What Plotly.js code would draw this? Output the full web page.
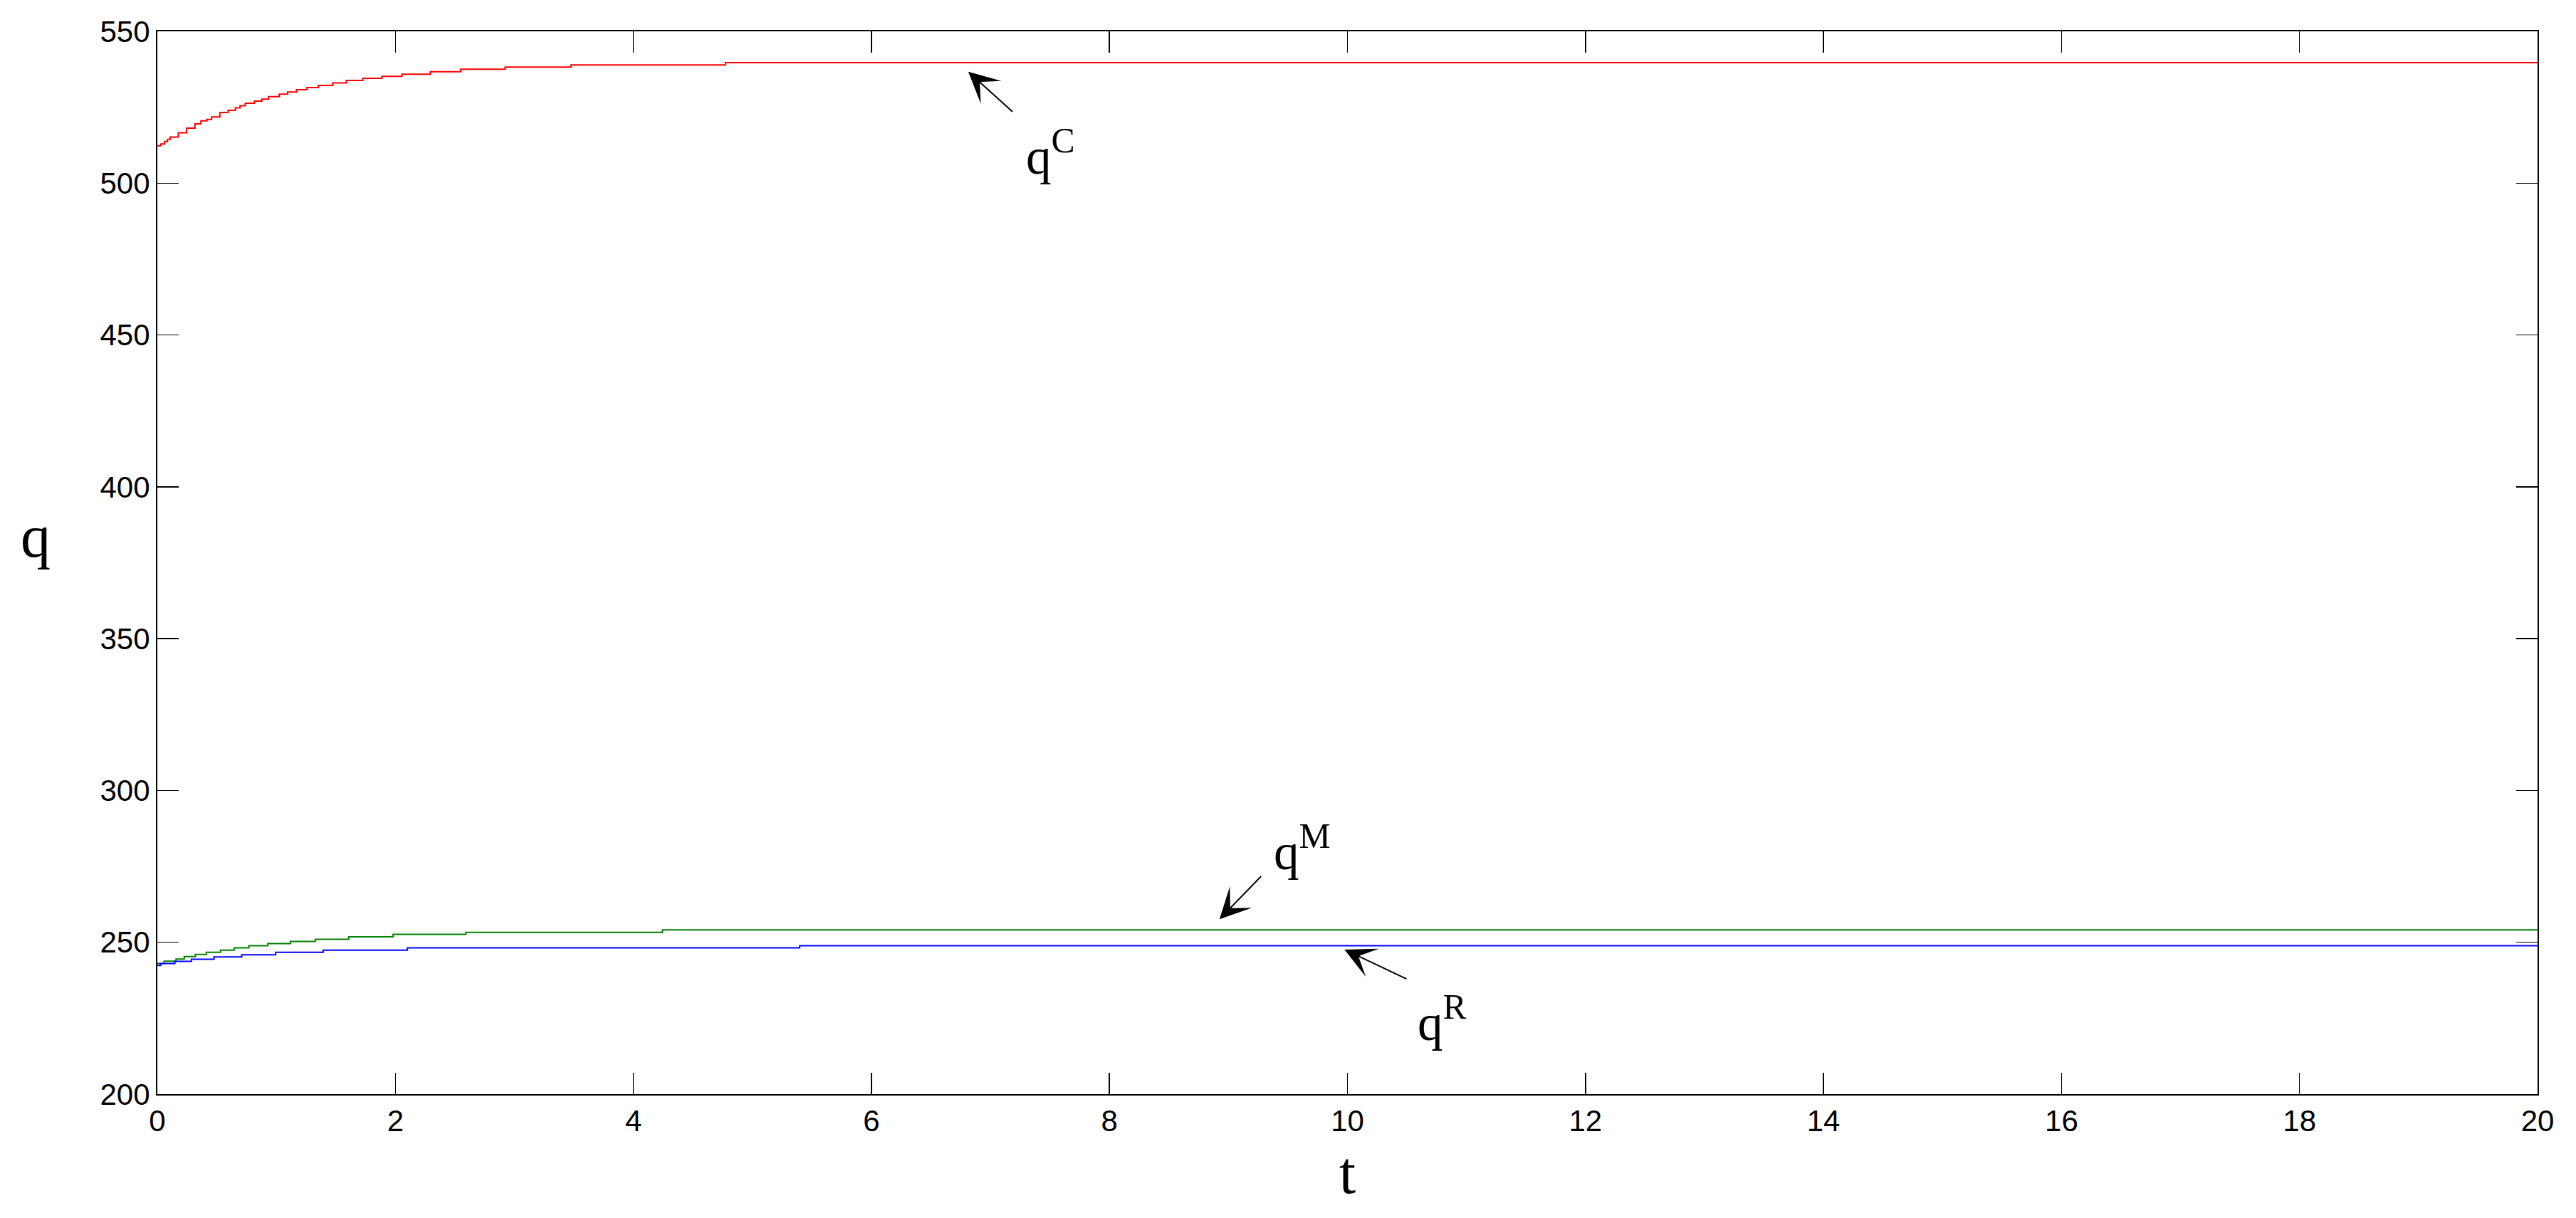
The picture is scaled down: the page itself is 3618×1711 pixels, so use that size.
<!DOCTYPE html>
<html>
<head>
<meta charset="utf-8">
<script src="https://cdn.plot.ly/plotly-3.0.1.min.js"></script>
<style>html,body{margin:0;padding:0;background:#fff;}#chart{width:3618px;height:1711px;}</style>
</head>
<body>
<div id="chart"></div>
<script>
// q^C (red)
const tC = [0, 0.03, 0.06, 0.085, 0.107, 0.176, 0.246, 0.316, 0.366, 0.416, 0.456, 0.525, 0.595, 0.655, 0.695, 0.739, 0.815, 0.878, 0.934, 1.024, 1.094, 1.169, 1.257, 1.353, 1.473, 1.588, 1.726, 1.887, 2.055, 2.294, 2.549, 2.922, 3.476, 4.773, 20];
const qC = [512.3, 512.9, 513.7, 514.4, 515.2, 516.6, 518.1, 519.5, 520.5, 521.0, 521.8, 523.3, 524.0, 524.8, 525.5, 526.3, 527.0, 527.7, 528.5, 529.3, 530.0, 530.8, 531.5, 532.2, 533.0, 533.8, 534.5, 535.2, 535.9, 536.7, 537.5, 538.2, 538.9, 539.7, 539.7];
// q^M (green)
const tM = [0, 0.057, 0.157, 0.226, 0.320, 0.412, 0.531, 0.645, 0.769, 0.928, 1.118, 1.327, 1.608, 1.981, 2.593, 4.244, 20];
const qM = [243.0, 243.8, 244.5, 245.3, 246.0, 246.7, 247.4, 248.2, 248.9, 249.6, 250.3, 251.0, 251.8, 252.6, 253.3, 254.1, 254.1];
// q^R (blue)
const tR = [0, 0.027, 0.147, 0.286, 0.476, 0.709, 0.994, 1.393, 2.101, 5.397, 20];
const qR = [242.4, 243.0, 243.7, 244.4, 245.2, 245.9, 246.7, 247.4, 248.2, 248.9, 248.9];

const xTickVals = [0, 2, 4, 6, 8, 10, 12, 14, 16, 18, 20];
const yTickVals = [200, 250, 300, 350, 400, 450, 500, 550];

const seriesNames = ['q<sup>C</sup>', 'q<sup>M</sup>', 'q<sup>R</sup>'];
const seriesColors = ['#ff0000', '#008000', '#0000ff'];

const traces = [
  {x: tC, y: qC, name: seriesNames[0]},
  {x: tM, y: qM, name: seriesNames[1]},
  {x: tR, y: qR, name: seriesNames[2]}
].map((tr, i) => Object.assign(tr, {
  type: 'scatter', mode: 'lines',
  line: {color: seriesColors[i], width: 2, shape: 'hv'},
  hoverinfo: 'skip'
}));

const serif = 'Liberation Serif, Times New Roman, serif';
const labelFont = {family: serif, size: 71, color: '#000'};

function arrow(x, y, ax, ay) {
  return {x: x, y: y, ax: ax, ay: ay, xref: 'x', yref: 'y', axref: 'x', ayref: 'y',
    text: '', showarrow: true, arrowhead: 3, arrowsize: 3.6, arrowwidth: 2,
    arrowcolor: '#000', standoff: 0, startstandoff: 0};
}
function label(text, x, y) {
  return {x: x, y: y, xref: 'x', yref: 'y', text: text, showarrow: false,
    xanchor: 'center', yanchor: 'middle', font: labelFont};
}

const layout = {
  width: 3618, height: 1711,
  margin: {l: 221, r: 54, t: 44, b: 174, pad: 0},
  paper_bgcolor: '#fff', plot_bgcolor: '#fff',
  showlegend: false,
  xaxis: {
    range: [0, 20], tickvals: xTickVals, ticktext: xTickVals.map(String),
    ticks: 'inside', ticklen: 30, tickwidth: 1.5, tickcolor: '#000',
    showline: true, linecolor: '#000', linewidth: 2, mirror: 'ticks',
    showgrid: false, zeroline: false,
    tickfont: {family: 'Liberation Sans, Arial, sans-serif', size: 42, color: '#000'},
    title: {text: 't', font: {family: serif, size: 84, color: '#000'}, standoff: 20}
  },
  yaxis: {
    range: [200, 550], tickvals: yTickVals, ticktext: yTickVals.map(String),
    ticks: 'inside', ticklen: 30, tickwidth: 1.5, tickcolor: '#000',
    showline: true, linecolor: '#000', linewidth: 2, mirror: 'ticks',
    showgrid: false, zeroline: false,
    tickfont: {family: 'Liberation Sans, Arial, sans-serif', size: 42, color: '#000'}
  },
  annotations: [
    {xref: 'paper', yref: 'paper', x: -0.0513, y: 0.525, text: 'q', showarrow: false,
     xanchor: 'center', yanchor: 'middle', font: {family: serif, size: 84, color: '#000'}},
    arrow(6.814, 536.7, 7.195, 523.2),
    arrow(8.925, 257.6, 9.283, 272.1),
    arrow(9.975, 247.6, 10.505, 237.8),
    label('q<sup>C</sup>', 7.507, 510.0),
    label('q<sup>M</sup>', 9.622, 281.0),
    label('q<sup>R</sup>', 10.80, 224.8)
  ]
};

Plotly.newPlot('chart', traces, layout, {displayModeBar: false, staticPlot: true});
</script>
</body>
</html>
